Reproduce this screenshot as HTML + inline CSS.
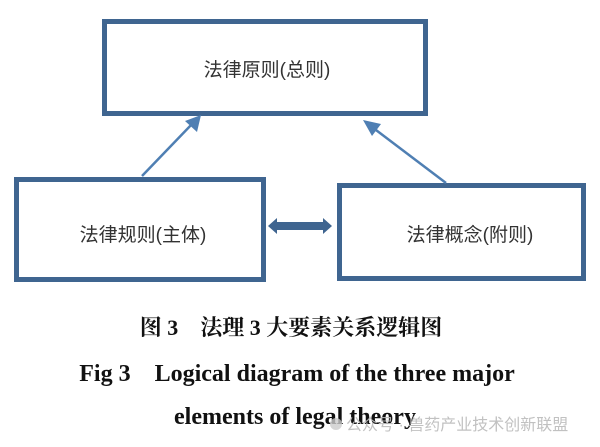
<!DOCTYPE html>
<html><head><meta charset="utf-8"><style>
html,body{margin:0;padding:0;background:#fff;}
body{width:600px;height:447px;overflow:hidden;position:relative;}
</style></head><body>
<svg width="600" height="447" style="position:absolute;left:0;top:0">
<rect x="104.5" y="21.5" width="321" height="92" fill="#fff" stroke="#3f6590" stroke-width="5"/>
<rect x="16.5" y="179.5" width="247" height="100" fill="#fff" stroke="#3f6590" stroke-width="5"/>
<rect x="339.5" y="185.5" width="244" height="93" fill="#fff" stroke="#3f6590" stroke-width="5"/>
<line x1="142" y1="176" x2="193" y2="123" stroke="#4f7fb3" stroke-width="2.5"/>
<polygon points="201,115 197,132 185,121" fill="#4f7fb3"/>
<line x1="446" y1="183" x2="372" y2="127" stroke="#4f7fb3" stroke-width="2.5"/>
<polygon points="363,120 381,124 372,136" fill="#4f7fb3"/>
<polygon points="268,226 277,218 277,222 323,222 323,218 332,226 323,234 323,230 277,230 277,234" fill="#3f6590"/>
<text x="267" y="76" text-anchor="middle" font-family="Liberation Sans, Noto Sans CJK SC, sans-serif" font-size="19" fill="#333">法律原则(总则)</text>
<text x="143" y="241" text-anchor="middle" font-family="Liberation Sans, Noto Sans CJK SC, sans-serif" font-size="19" fill="#333">法律规则(主体)</text>
<text x="470" y="241" text-anchor="middle" font-family="Liberation Sans, Noto Sans CJK SC, sans-serif" font-size="19" fill="#333">法律概念(附则)</text>
<text x="291" y="335" text-anchor="middle" font-family="Liberation Serif, Noto Serif CJK SC, serif" font-weight="bold" font-size="22" fill="#111" xml:space="preserve">图 3    法理 3 大要素关系逻辑图</text>
<text x="297" y="381" text-anchor="middle" font-family="Liberation Serif, serif" font-weight="bold" font-size="24" fill="#111" xml:space="preserve">Fig 3    Logical diagram of the three major</text>
<text x="295" y="424" text-anchor="middle" font-family="Liberation Serif, serif" font-weight="bold" font-size="24" fill="#111">elements of legal theory</text>
<circle cx="336" cy="424" r="6" fill="#ccc" opacity="0.8"/>
<text x="346" y="430" font-family="Liberation Sans, Noto Sans CJK SC, sans-serif" font-size="16" fill="#bbb" opacity="0.9">公众号 · 兽药产业技术创新联盟</text>
</svg>
</body></html>
